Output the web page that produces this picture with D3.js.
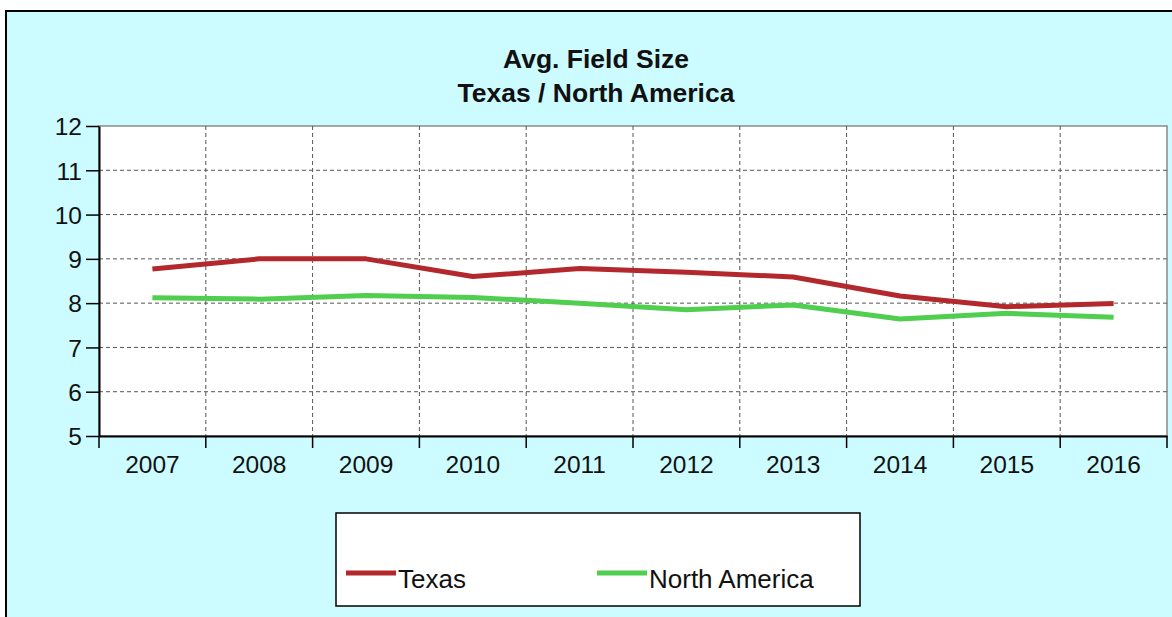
<!DOCTYPE html>
<html><head><meta charset="utf-8">
<script src="https://cdn.jsdelivr.net/npm/d3@7"></script>
<style>body{margin:0;background:#fff}svg{display:block}</style>
</head><body>
<script>
const years = ["2007","2008","2009","2010","2011","2012","2013","2014","2015","2016"];
const texas = [8.77, 9.0, 9.0, 8.6, 8.78, 8.7, 8.59, 8.16, 7.92, 7.99];
const northAmerica = [8.12, 8.09, 8.17, 8.13, 8.0, 7.85, 7.96, 7.64, 7.77, 7.68];
const yTicks = [5, 6, 7, 8, 9, 10, 11, 12];
const titleLines = ["Avg. Field Size", "Texas / North America"];
const seriesNames = ["Texas", "North America"];
const seriesColors = ["#b3282d", "#4fce4f"];

const W = 1172, H = 617;
const svg = d3.select("body").append("svg").attr("width", W).attr("height", H);
const font = "Arial, 'Liberation Sans', sans-serif";

svg.append("rect").attr("x", 6).attr("y", 11).attr("width", 1200).attr("height", 700)
  .attr("fill", "#ccfcff").attr("stroke", "#000").attr("stroke-width", 2);

const L = 99, R = 1167, T = 126, B = 436;
const x = d3.scaleBand().domain(years).range([L, R]).padding(0);
const y = d3.scaleLinear().domain([5, 12]).range([B, T]);

svg.append("rect").attr("x", L).attr("y", T).attr("width", R - L).attr("height", B - T)
  .attr("fill", "#fff").attr("stroke", "#8a8a8a").attr("stroke-width", 1.5);

// grid
const g = svg.append("g");
g.selectAll(".hg").data(yTicks.filter(d => d > 5 && d < 12)).join("line")
  .attr("x1", L).attr("x2", R).attr("y1", d => y(d)).attr("y2", d => y(d))
  .attr("stroke", "#555").attr("stroke-dasharray", "4,3").attr("stroke-width", 1);
g.selectAll(".vg").data(years.slice(1)).join("line")
  .attr("x1", d => x(d)).attr("x2", d => x(d)).attr("y1", T).attr("y2", B)
  .attr("stroke", "#555").attr("stroke-dasharray", "4,3").attr("stroke-width", 1);

// y axis
const ya = svg.append("g").attr("transform", `translate(${L},0)`)
  .call(d3.axisLeft(y).tickValues(yTicks).tickFormat(d3.format("d")).tickSize(13).tickSizeOuter(0).tickPadding(0));
ya.select(".domain").attr("stroke", "#000").attr("stroke-width", 2);
ya.selectAll(".tick line").attr("stroke", "#000").attr("stroke-width", 1.5);
ya.selectAll(".tick text").attr("font-family", font).attr("font-size", 24.5).attr("fill", "#111")
  .attr("x", -17).attr("dy", "0.36em");

// x axis
const xa = svg.append("g").attr("transform", `translate(0,${B})`)
  .call(d3.axisBottom(x).tickSize(0).tickPadding(0));
xa.select(".domain").attr("stroke", "#000").attr("stroke-width", 2);
xa.selectAll(".tick text").attr("font-family", font).attr("font-size", 24.5).attr("fill", "#111")
  .attr("y", 37).attr("dy", "0");
xa.selectAll(".xt").data(years.concat(["end"])).join("line")
  .attr("x1", (d, i) => i < years.length ? x(d) : R).attr("x2", (d, i) => i < years.length ? x(d) : R)
  .attr("y1", 0).attr("y2", 12).attr("stroke", "#000").attr("stroke-width", 1.5);

// lines
const line = d3.line().x((d, i) => x(years[i]) + x.bandwidth() / 2).y(d => y(d));
[texas, northAmerica].forEach((s, k) => {
  svg.append("path").datum(s).attr("d", line).attr("fill", "none")
    .attr("stroke", seriesColors[k]).attr("stroke-width", 5).attr("stroke-linejoin", "round");
});

// title
svg.append("g").selectAll("text").data(titleLines).join("text")
  .attr("x", 596).attr("y", (d, i) => 68 + i * 34).attr("text-anchor", "middle")
  .attr("font-family", font).attr("font-weight", "bold").attr("font-size", 26.5).attr("fill", "#111")
  .text(d => d);

// legend
svg.append("rect").attr("x", 336).attr("y", 513).attr("width", 524).attr("height", 93)
  .attr("fill", "#fff").attr("stroke", "#000").attr("stroke-width", 1.5);
const lx = [346, 597];
seriesNames.forEach((n, k) => {
  svg.append("line").attr("x1", lx[k]).attr("x2", lx[k] + 50).attr("y1", 573).attr("y2", 573)
    .attr("stroke", seriesColors[k]).attr("stroke-width", 5);
  svg.append("text").attr("x", lx[k] + 52).attr("y", 588).attr("font-family", font)
    .attr("font-size", 26).attr("fill", "#111").text(n);
});
</script>
</body></html>
